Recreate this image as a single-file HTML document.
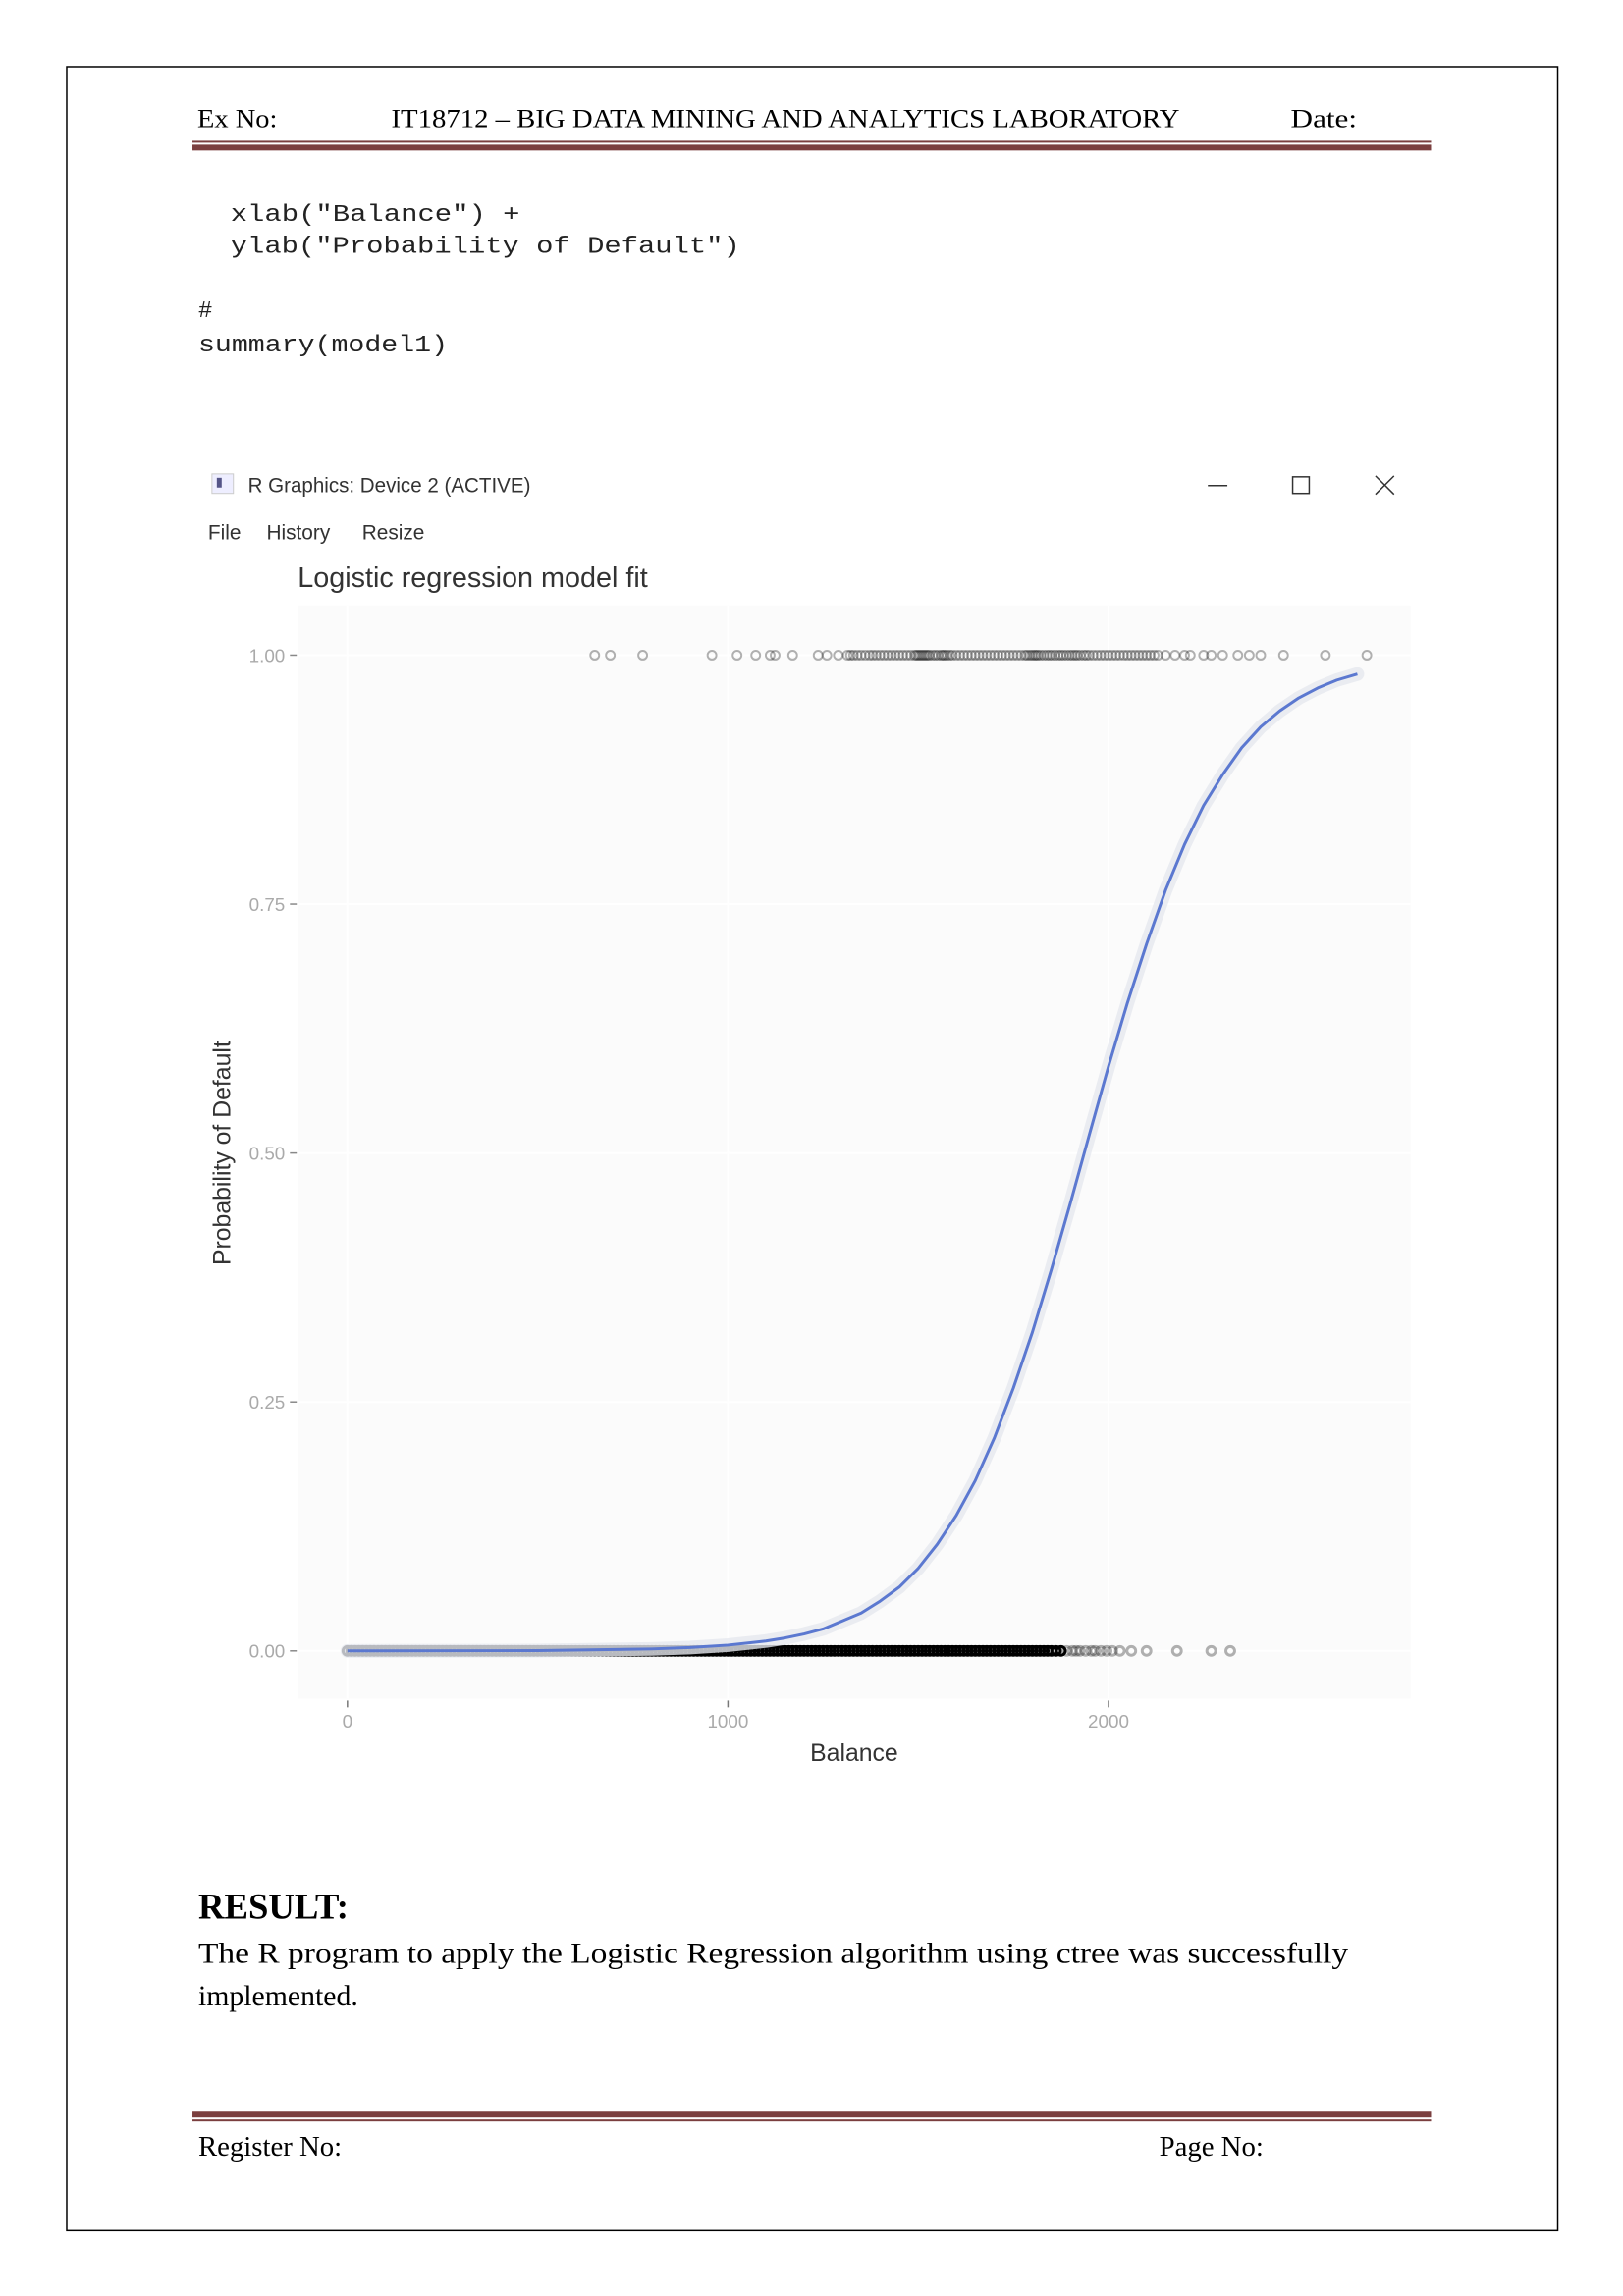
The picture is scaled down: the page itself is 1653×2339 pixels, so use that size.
<!DOCTYPE html>
<html><head><meta charset="utf-8"><style>
html,body{margin:0;padding:0;background:#fff;}
svg{display:block;}
</style></head><body>
<svg width="1653" height="2339" viewBox="0 0 1653 2339" xmlns="http://www.w3.org/2000/svg">
<g transform="translate(0.5,0.5) scale(0.9925)">
<rect x="68" y="68" width="1530" height="2221" fill="none" stroke="#000" stroke-width="1.5"/>
<g font-family="Liberation Serif, serif" font-size="27" fill="#000">
<text x="202" y="130" textLength="82" lengthAdjust="spacingAndGlyphs">Ex No:</text>
<text x="401" y="130" textLength="809" lengthAdjust="spacingAndGlyphs">IT18712 – BIG DATA MINING AND ANALYTICS LABORATORY</text>
<text x="1324" y="130" textLength="68" lengthAdjust="spacingAndGlyphs">Date:</text>
</g>
<rect x="197" y="144" width="1271" height="2" fill="#7b3f3f"/>
<rect x="197" y="148" width="1271" height="6" fill="#7b3f3f"/>
<g font-family="Liberation Mono, monospace" font-size="24" fill="#222">
<text x="236" y="226" textLength="297" lengthAdjust="spacingAndGlyphs">xlab("Balance") +</text>
<text x="236" y="259" textLength="523" lengthAdjust="spacingAndGlyphs">ylab("Probability of Default")</text>
<text x="203" y="325">#</text>
<text x="203" y="360" textLength="256" lengthAdjust="spacingAndGlyphs">summary(model1)</text>
</g>
<g>
<rect x="217" y="486" width="22" height="20" fill="#eef" stroke="#ccc"/>
<rect x="222" y="490" width="5" height="10" fill="#558"/>
<text x="254" y="505" font-family="Liberation Sans, sans-serif" font-size="21" fill="#333" textLength="290" lengthAdjust="spacingAndGlyphs">R Graphics: Device 2 (ACTIVE)</text>
<line x1="1239" y1="498" x2="1259" y2="498" stroke="#333" stroke-width="1.5"/>
<rect x="1326" y="489" width="17" height="17" fill="none" stroke="#333" stroke-width="1.5"/>
<path d="M1411 488 L1430 507 M1430 488 L1411 507" stroke="#333" stroke-width="1.5"/>
</g>
<g font-family="Liberation Sans, sans-serif" font-size="21" fill="#333">
<text x="213" y="553">File</text>
<text x="273" y="553">History</text>
<text x="371" y="553">Resize</text>
</g>
<text x="305" y="602" font-family="Liberation Sans, sans-serif" font-size="29" fill="#333">Logistic regression model fit</text>
<rect x="305" y="621" width="1142" height="1122" fill="#fbfbfb"/>
<g id="grid"></g>
<g id="axes"></g>
<g id="points"></g>
<g id="fit"></g>
<text x="876" y="1807" text-anchor="middle" font-family="Liberation Sans, sans-serif" font-size="25" fill="#333">Balance</text>
<text transform="translate(236,1183) rotate(-90)" text-anchor="middle" font-family="Liberation Sans, sans-serif" font-size="25" fill="#333">Probability of Default</text>
<text x="203" y="1969" font-family="Liberation Serif, serif" font-size="37" font-weight="bold">RESULT:</text>
<text x="203" y="2014" font-family="Liberation Serif, serif" font-size="30" textLength="1180" lengthAdjust="spacingAndGlyphs">The R program to apply the Logistic Regression algorithm using ctree  was successfully</text>
<text x="203" y="2058" font-family="Liberation Serif, serif" font-size="30">implemented.</text>
<rect x="197" y="2167" width="1271" height="6" fill="#7b3f3f"/>
<rect x="197" y="2175" width="1271" height="2" fill="#7b3f3f"/>
<text x="203" y="2212" font-family="Liberation Serif, serif" font-size="29">Register No:</text>
<text x="1189" y="2212" font-family="Liberation Serif, serif" font-size="29">Page No:</text>
</g>
</svg>
<script>
const xTicks = [0, 1000, 2000];
const yTicks = [0, 0.25, 0.5, 0.75, 1];
const yTickLabels = ["0.00", "0.25", "0.50", "0.75", "1.00"];
const defaultBalances = [650,691,776,958,1024,1073,1111,1124,1170,1237,1260,1290,1314,1322,1330,1340,1350,1361,1372,1381,1390,1400,1410,1420,1430,1440,1450,1460,1470,1480,1490,1495,1500,1505,1510,1515,1520,1525,1530,1538,1545,1552,1560,1565,1570,1576,1583,1590,1600,1610,1620,1630,1640,1650,1660,1670,1680,1690,1700,1710,1720,1730,1740,1750,1760,1770,1780,1786,1793,1799,1805,1810,1815,1822,1830,1838,1845,1852,1860,1868,1875,1882,1890,1898,1905,1912,1918,1926,1935,1942,1950,1960,1970,1980,1990,2000,2010,2020,2030,2040,2050,2060,2070,2080,2090,2100,2110,2120,2130,2150,2175,2200,2215,2250,2270,2300,2340,2370,2400,2460,2570,2679];
const nonDefaultBalances = [0,10,20,30,40,50,60,70,80,90,100,110,120,130,140,150,160,170,180,190,200,210,220,230,240,250,260,270,280,290,300,310,320,330,340,350,360,370,380,390,400,410,420,430,440,450,460,470,480,490,500,510,520,530,540,550,560,570,580,590,600,610,620,630,640,650,660,670,680,690,700,710,720,730,740,750,760,770,780,790,800,810,820,830,840,850,860,870,880,890,900,910,920,930,940,950,960,970,980,990,1000,1010,1020,1030,1040,1050,1060,1070,1080,1090,1100,1110,1120,1130,1140,1150,1160,1170,1180,1190,1200,1210,1220,1230,1240,1250,1260,1270,1280,1290,1300,1310,1320,1330,1340,1350,1360,1370,1380,1390,1400,1410,1420,1430,1440,1450,1460,1470,1480,1490,1500,1510,1520,1530,1540,1550,1560,1570,1580,1590,1600,1610,1620,1630,1640,1650,1660,1670,1680,1690,1700,1710,1720,1730,1740,1750,1760,1770,1780,1790,1800,1810,1820,1830,1840,1850,1862,1875,1890,1905,1915,1925,1940,1955,1965,1980,1995,2010,2030,2060,2100,2180,2270,2320];
const fitBalances = [0,500,800,900,1000,1100,1150,1200,1250,1300,1350,1400,1450,1500,1550,1600,1650,1700,1750,1800,1850,1900,1950,2000,2050,2100,2150,2200,2250,2300,2350,2400,2450,2500,2550,2600,2654];
const fitProbs = [0.00002,0.0003,0.002,0.0033,0.0058,0.0099,0.013,0.017,0.022,0.030,0.038,0.050,0.064,0.083,0.107,0.136,0.171,0.214,0.264,0.32,0.383,0.45,0.519,0.587,0.651,0.71,0.764,0.81,0.849,0.88,0.907,0.928,0.944,0.957,0.967,0.975,0.981];

const NS = "http://www.w3.org/2000/svg";
function xS(b){ return 356 + b * 0.3905; }
function yS(p){ return 1694 - p * 1022; }
function mk(tag, attrs, parent){ const e=document.createElementNS(NS,tag); for(const k in attrs) e.setAttribute(k,attrs[k]); parent.appendChild(e); return e; }

const grid=document.getElementById('grid'), axes=document.getElementById('axes'), pts=document.getElementById('points'), fit=document.getElementById('fit');
xTicks.forEach(function(t){
  const g = mk('line',{x1:xS(t),x2:xS(t),y1:621,y2:1743,stroke:'#ffffff','stroke-width':2},grid);
  
  
  const tk = mk('line',{x1:xS(t),x2:xS(t),y1:1745,y2:1752,stroke:'#777','stroke-width':1.5},axes);
  
  
  const lb = mk('text',{x:xS(t),y:1773,'text-anchor':'middle','font-family':'Liberation Sans, sans-serif','font-size':19,fill:'#aaa'},axes);
  lb.textContent = String(t);
  
  
});
yTicks.forEach(function(t,i){
  const g = mk('line',{x1:305,x2:1447,y1:yS(t),y2:yS(t),stroke:'#ffffff','stroke-width':2},grid);
  
  
  const tk = mk('line',{x1:297,x2:304,y1:yS(t),y2:yS(t),stroke:'#888','stroke-width':1.5},axes);
  
  
  const lb = mk('text',{x:292,y:yS(t)+7,'text-anchor':'end','font-family':'Liberation Sans, sans-serif','font-size':19,fill:'#aaa'},axes);
  lb.textContent = yTickLabels[i];
  
  
});
defaultBalances.forEach(function(b){
  const c = mk('circle',{cx:xS(b),cy:yS(1),r:4.5,fill:'none',stroke:'#000','stroke-opacity':0.3,'stroke-width':2},pts);
  
  
});
nonDefaultBalances.forEach(function(b){
  const c = mk('circle',{cx:xS(b),cy:yS(0),r:4.5,fill:'none',stroke:'#000','stroke-opacity':b<1880?1:0.3,'stroke-width':3},pts);
  
  
});
let d='';
fitBalances.forEach(function(b,i){ d += (i?' L':'M') + xS(b).toFixed(1) + ' ' + yS(fitProbs[i]).toFixed(1); });
const band = mk('path',{d:d,fill:'none',stroke:'#e6e8ef','stroke-width':14,'stroke-linejoin':'round','stroke-linecap':'round','stroke-opacity':0.8},fit);


const line = mk('path',{d:d,fill:'none',stroke:'#5b78d0','stroke-width':3,'stroke-linejoin':'round'},fit);


</script>
</body></html>
